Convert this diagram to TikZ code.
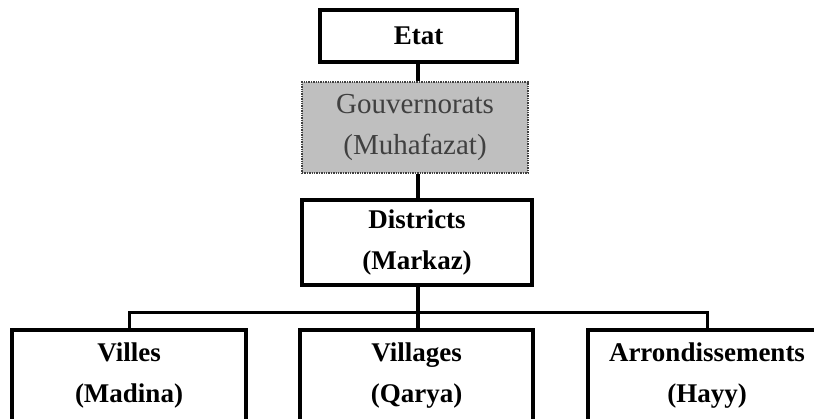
\documentclass[tikz,border=0pt]{standalone}
\usepackage{fontspec}
\setmainfont{Liberation Serif}
\begin{document}
\begin{tikzpicture}[x=1pt,y=1pt,
  box/.style={draw=black, line width=3.5pt, fill=white, rectangle, inner sep=0pt,
    align=center, font=\fontsize{27}{41}\selectfont\bfseries},
  gbox/.style={draw=black!75, densely dotted, line width=1.4pt, fill=black!25, rectangle, inner sep=0pt,
    align=center, text=black!75, font=\fontsize{29}{41}\selectfont},
  link/.style={draw=black, line width=3.5pt},
  bus/.style={draw=black, line width=3pt}]
\useasboundingbox (0,0) rectangle (814,418);
\clip (0,0) rectangle (814,418);
\fill[white] (0,0) rectangle (814,418);
% nodes
\node[box, minimum width=197, minimum height=52] (etat) at (418.5,382) {Etat};
\node[gbox, minimum width=226, minimum height=91] (gouv) at (415,290.5) {Gouvernorats\\(Muhafazat)};
\node[box, minimum width=230, minimum height=85] (dist) at (417,175.5) {Districts\\(Markaz)};
\node[box, minimum width=234, minimum height=92] (villes) at (129,42) {Villes\\(Madina)};
\node[box, minimum width=233, minimum height=92] (villages) at (416.5,42) {Villages\\(Qarya)};
\node[box, minimum width=238, minimum height=92] (arr) at (707,42) {Arrondissements\\(Hayy)};
\coordinate (busy) at (0,105);
\coordinate (cx) at (418,0);
% connectors
\draw[link] (etat.south -| cx) -- (gouv.north -| cx);
\draw[link] (gouv.south -| cx) -- (dist.north -| cx);
\draw[link] (dist.south -| cx) -- (villages.north -| cx);
\draw[bus] (villes.north) -- (villes.north |- busy) -- (arr.north |- busy) -- (arr.north);
\end{tikzpicture}
\end{document}
